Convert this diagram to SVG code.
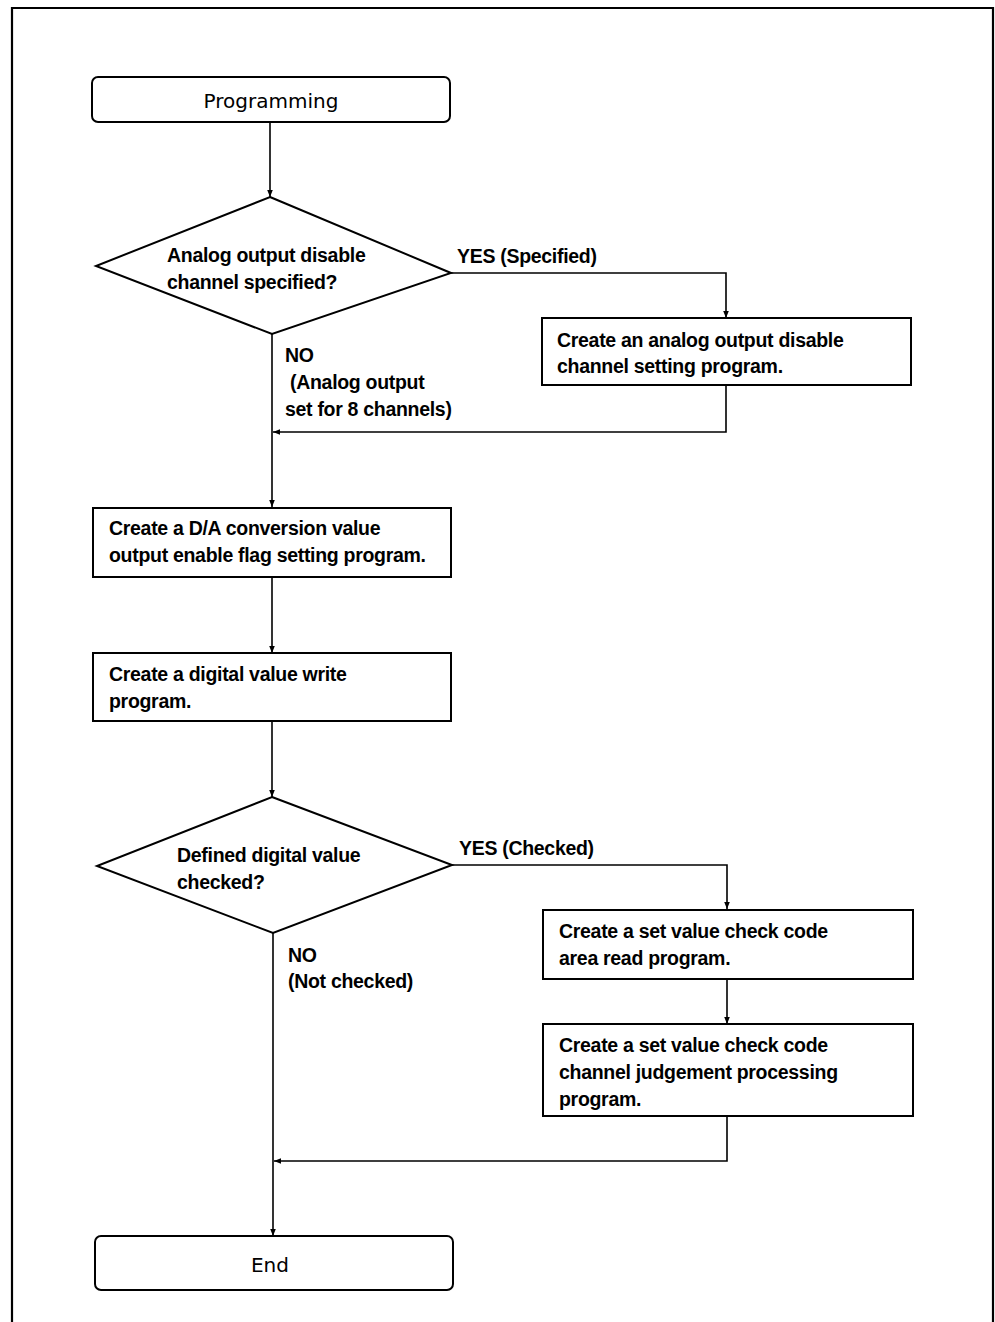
<svg xmlns="http://www.w3.org/2000/svg" width="995" height="1322" viewBox="0 0 995 1322">
<style>
.n{fill:#fff;stroke:#000;stroke-width:2}
.c{fill:none;stroke:#000;stroke-width:1.6}
text{font-family:"Liberation Sans",Arial,sans-serif;font-size:19.5px;font-weight:bold;fill:#000;letter-spacing:-0.3px}
.t{font-family:"DejaVu Sans","Liberation Sans",sans-serif;font-size:20px;font-weight:normal;letter-spacing:0}
.m{text-anchor:middle}
</style>
<defs>
<marker id="ah" viewBox="0 0 10 10" refX="10" refY="5" markerWidth="7" markerHeight="7" orient="auto" markerUnits="userSpaceOnUse">
<path d="M0,1 L10,5 L0,9 z" fill="#000"/>
</marker>
</defs>
<rect x="0" y="0" width="995" height="1322" fill="#fff"/>
<path d="M12,1322 V8 H993 V1322" fill="none" stroke="#000" stroke-width="2.2"/>
<g id="connectors">
<path class="c" d="M270,122 V197" marker-end="url(#ah)"/>
<path class="c" d="M451,273 H726 V318" marker-end="url(#ah)"/>
<path class="c" d="M726,386 V432 H273" marker-end="url(#ah)"/>
<path class="c" d="M272,334 V507" marker-end="url(#ah)"/>
<path class="c" d="M272,577 V653" marker-end="url(#ah)"/>
<path class="c" d="M272,721 V797" marker-end="url(#ah)"/>
<path class="c" d="M452,865 H727 V909" marker-end="url(#ah)"/>
<path class="c" d="M727,979 V1024" marker-end="url(#ah)"/>
<path class="c" d="M727,1116 V1161 H274" marker-end="url(#ah)"/>
<path class="c" d="M273,933 V1236" marker-end="url(#ah)"/>
<text x="457" y="263">YES (Specified)</text>
<text x="285" y="362">NO</text>
<text x="290" y="389">(Analog output</text>
<text x="285" y="416">set for 8 channels)</text>
<text x="459" y="855">YES (Checked)</text>
<text x="288" y="962">NO</text>
<text x="288" y="988">(Not checked)</text>
</g>
<g id="start">
<rect class="n" x="92" y="77" width="358" height="45" rx="6"/>
<text class="t m" x="271" y="108">Programming</text>
</g>
<g id="d1">
<path class="n" d="M270,197 L451,273 L272,334 L96,266 Z"/>
<text x="167" y="262">Analog output disable</text>
<text x="167" y="289">channel specified?</text>
</g>
<g id="b1">
<rect class="n" x="542" y="318" width="369" height="67"/>
<text x="557" y="347">Create an analog output disable</text>
<text x="557" y="373">channel setting program.</text>
</g>
<g id="b2">
<rect class="n" x="93" y="508" width="358" height="69"/>
<text x="109" y="535">Create a D/A conversion value</text>
<text x="109" y="562">output enable flag setting program.</text>
</g>
<g id="b3">
<rect class="n" x="93" y="653" width="358" height="68"/>
<text x="109" y="681">Create a digital value write</text>
<text x="109" y="708">program.</text>
</g>
<g id="d2">
<path class="n" d="M272,797 L452,865 L273,933 L97,866 Z"/>
<text x="177" y="862">Defined digital value</text>
<text x="177" y="889">checked?</text>
</g>
<g id="b4">
<rect class="n" x="543" y="910" width="370" height="69"/>
<text x="559" y="938">Create a set value check code</text>
<text x="559" y="965">area read program.</text>
</g>
<g id="b5">
<rect class="n" x="543" y="1024" width="370" height="92"/>
<text x="559" y="1052">Create a set value check code</text>
<text x="559" y="1079">channel judgement processing</text>
<text x="559" y="1106">program.</text>
</g>
<g id="end">
<rect class="n" x="95" y="1236" width="358" height="54" rx="6"/>
<text class="t m" x="270" y="1272">End</text>
</g>
</svg>
